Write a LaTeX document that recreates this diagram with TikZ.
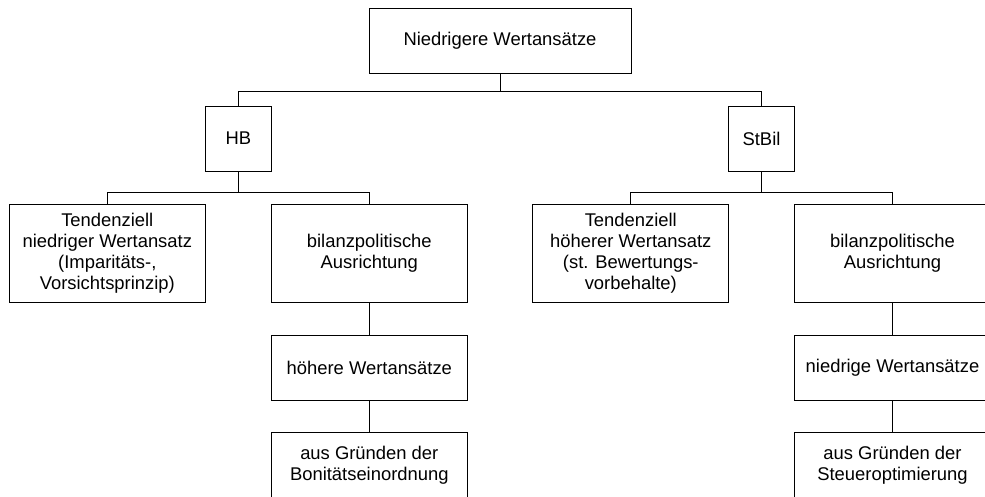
\documentclass[tikz,border=0pt]{standalone}
\usepackage{fontspec}
\setmainfont{Liberation Sans}
\usepackage{tikz}

\tikzset{
  box/.style={draw, line width=0.8pt, align=center, inner sep=0pt,
    minimum width=196pt, minimum height=98pt,
    font=\fontsize{18.4}{21}\selectfont},
  small/.style={minimum width=65.5pt, minimum height=65pt},
  flat/.style={minimum height=65.5pt},
}

\begin{document}
\begin{tikzpicture}[x=1pt,y=-1pt,line width=0.8pt]
\useasboundingbox (0,0) rectangle (985,497);

\node[box, minimum width=262pt, minimum height=65pt] (top) at (500,40.5) {Niedrigere Wertansätze};
\node[box, small] (hb)    at (238.3,138.5) {HB};
\node[box, small] (stbil) at (761.5,138.5) {StBil};

\node[box] (hbTend) at (107.3,253) {Tendenziell\\niedriger Wertansatz\\(Imparitäts-,\\Vorsichtsprinzip)};
\node[box] (hbPol)  at (369.3,253) {bilanzpolitische\\Ausrichtung};
\node[box, flat] (hbHoch) at (369.3,368) {höhere Wertansätze};
\node[box, flat] (hbBon)  at (369.3,465.5) {aus Gründen der\\Bonitätseinordnung};

\node[box] (stTend) at (630.8,253) {Tendenziell\\höherer Wertansatz\\(st. Bewertungs-\\vorbehalte)};
\node[box] (stPol)  at (892.5,253) {bilanzpolitische\\Ausrichtung};
\node[box, flat] (stNied)   at (892.5,368) {niedrige Wertansätze};
\node[box, flat] (stSteuer) at (892.5,465.5) {aus Gründen der\\Steueroptimierung};

\draw (top.south) -- ++(0,18) -| (hb.north);
\draw (top.south) -- ++(0,18) -| (stbil.north);
\draw (hb.south) -- ++(0,21) -| (hbTend.north);
\draw (hb.south) -- ++(0,21) -| (hbPol.north);
\draw (stbil.south) -- ++(0,21) -| (stTend.north);
\draw (stbil.south) -- ++(0,21) -| (stPol.north);
\draw (hbPol.south) -- (hbHoch.north);
\draw (hbHoch.south) -- (hbBon.north);
\draw (stPol.south) -- (stNied.north);
\draw (stNied.south) -- (stSteuer.north);
\end{tikzpicture}
\end{document}
